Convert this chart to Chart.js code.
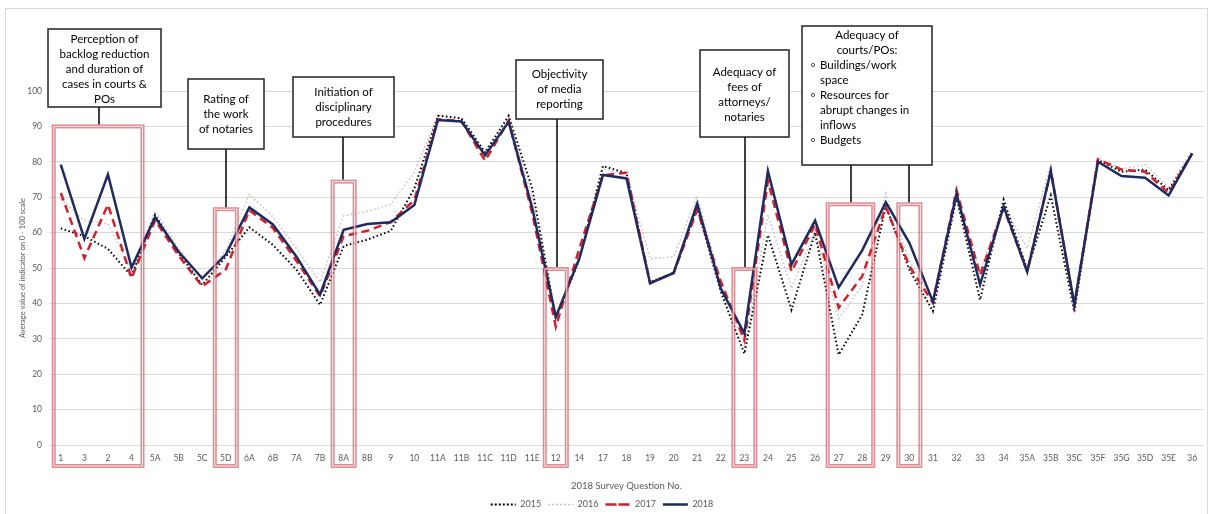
<!DOCTYPE html>
<html>
<head>
<meta charset="utf-8">
<script src="https://cdn.jsdelivr.net/npm/chart.js@4.4.0/dist/chart.umd.min.js"></script>
<style>
  html, body { margin: 0; padding: 0; background: #fff; }
  #wrap { width: 1211px; height: 514px; }
</style>
</head>
<body>
<div id="wrap"><canvas id="surveyChart" width="1211" height="514"></canvas></div>
<script>
// survey questions (x axis)
const questions = ['1','3','2','4','5A','5B','5C','5D','6A','6B','7A','7B','8A','8B','9','10',
  '11A','11B','11C','11D','11E','12','14','17','18','19','20','21','22','23','24','25','26',
  '27','28','29','30','31','32','33','34','35A','35B','35C','35F','35G','35D','35E','36'];

// average value of indicator, 0 - 100 scale
const values2015 = [61.2, 59, 55.4, 47.7, 65, 54.2, 45.2, 53.2, 61.5, 56.5, 49.5, 39.6, 56.2, 58, 60.5, 72.5,
  93, 92.3, 82.6, 93, 72.5, 35.7, 52.5, 78.8, 76.8, 46, 48.6, 67, 43.3, 25.8, 59.3, 38.2, 60,
  25.5, 36.8, 67.6, 49.5, 37.8, 70, 41, 69.3, 49.5, 70.5, 37.6, 80.5, 77.2, 77.8, 72, 82.3];
const values2016 = [69.5, 63.4, 62.5, 49, 66.2, 55.5, 46.5, 55, 70.8, 64.5, 55.5, 46, 64.7, 66, 68, 77,
  93.2, 92.3, 83, 92.5, 70, 36.5, 53.5, 78, 76.5, 52.6, 53.2, 70.3, 46, 28, 65, 44.2, 60.5,
  35.7, 45, 71.1, 52, 41, 70, 49, 68, 55.6, 79.5, 40, 81, 78, 79.2, 72.9, 83.3];
const values2017 = [71.2, 52.8, 67.9, 47.1, 63.5, 53.5, 44.8, 49.6, 66.3, 61.3, 52, 42, 59, 60.5, 63, 69.2,
  92, 91.5, 80.3, 91.6, 65.5, 33.4, 55.5, 76.2, 76.9, 45.7, 48.6, 66.4, 46.2, 29.6, 74.6, 49, 62.3,
  38.8, 47.7, 67.3, 50.5, 40.2, 72, 48, 67, 49, 77.4, 39.3, 80.7, 77.8, 77.2, 71.2, 82.4];
const values2018 = [79.2, 58.2, 76.4, 50.1, 64.3, 54.6, 47.1, 53.8, 67.1, 62.3, 53.2, 42.5, 60.8, 62.4, 62.9, 67.8,
  91.8, 91.4, 81.8, 91.3, 67, 36.2, 52.7, 76.3, 75.3, 45.7, 48.6, 68.2, 44.2, 31.5, 77.4, 51, 63.4,
  44.5, 55, 68.6, 57.1, 40.5, 71, 45.3, 67.4, 48.9, 77.4, 39.7, 80, 76, 75.5, 70.5, 82.4];

const yTicks = [0, 10, 20, 30, 40, 50, 60, 70, 80, 90, 100];

// 강조 구간 (빨간 박스) + 설명 상자
const callouts = [
  { from: '1', to: '4', top: 90, padL: 7, box: [48, 29, 161, 107], lineX: 99,
    lines: ['Perception of', 'backlog reduction', 'and duration of', 'cases in courts &', 'POs'], textY: 39 },
  { from: '5D', to: '5D', top: 66.6, box: [188, 79, 264, 149], lineX: 226,
    lines: ['Rating of', 'the work', 'of notaries'], textY: 99 },
  { from: '8A', to: '8A', top: 74.4, box: [293, 77, 394, 137], lineX: 343,
    lines: ['Initiation of', 'disciplinary', 'procedures'], textY: 92 },
  { from: '12', to: '12', top: 49.7, box: [516, 60, 603, 119], lineX: 557,
    lines: ['Objectivity', 'of media', 'reporting'], textY: 74 },
  { from: '23', to: '23', top: 49.7, box: [700, 50, 789, 137], lineX: 745,
    lines: ['Adequacy of', 'fees of', 'attorneys/', 'notaries'], textY: 72 },
  { from: '27', to: '28', top: 68, box: [802, 26, 932, 165], lineX: 851,
    lines: ['Adequacy of', 'courts/POs:'], textY: 35,
    bullets: [['Buildings/work', 'space'], ['Resources for', 'abrupt changes in', 'inflows'], ['Budgets']] },
  { from: '30', to: '30', top: 68, box: null, lineX: 909 }
];

const calloutPlugin = {
  id: 'callouts',
  afterDraw(chart) {
    const ctx = chart.ctx;
    const x = chart.scales.x;
    const y = chart.scales.y;
    ctx.save();
    // 바깥 테두리
    ctx.strokeStyle = '#d9d9d9';
    ctx.lineWidth = 1;
    ctx.strokeRect(5.5, 8.5, 1202, 510);

    const bottom = 466;
    callouts.forEach(c => {
      const left = x.getPixelForValue(questions.indexOf(c.from)) - (c.padL || 11);
      const right = x.getPixelForValue(questions.indexOf(c.to)) + 11;
      const top = y.getPixelForValue(c.top);
      ctx.strokeStyle = 'rgba(200, 70, 80, 0.62)';
      ctx.lineWidth = 4;
      ctx.strokeRect(left, top, right - left, bottom - top);
      ctx.strokeStyle = 'rgba(255, 255, 255, 0.8)';
      ctx.lineWidth = 1;
      ctx.strokeRect(left, top, right - left, bottom - top);

      // 연결선
      const boxBottom = c.box ? c.box[3] : 165;
      ctx.strokeStyle = '#000';
      ctx.lineWidth = 1.5;
      ctx.beginPath();
      ctx.moveTo(c.lineX, boxBottom);
      ctx.lineTo(c.lineX, top - 2);
      ctx.stroke();

      if (!c.box) return;
      const [bx1, by1, bx2, by2] = c.box;
      ctx.fillStyle = '#fff';
      ctx.fillRect(bx1, by1, bx2 - bx1, by2 - by1);
      ctx.strokeStyle = '#222';
      ctx.lineWidth = 1.5;
      ctx.strokeRect(bx1, by1, bx2 - bx1, by2 - by1);

      ctx.fillStyle = '#000';
      ctx.font = '11.5px Lato, "Open Sans", sans-serif';
      ctx.textBaseline = 'middle';
      ctx.textAlign = 'center';
      const cx = (bx1 + bx2) / 2;
      let ty = c.textY;
      c.lines.forEach(t => { ctx.fillText(t, cx, ty); ty += 15; });
      if (c.bullets) {
        ctx.textAlign = 'left';
        c.bullets.forEach(b => {
          ctx.beginPath();
          ctx.arc(bx1 + 11, ty, 1.6, 0, Math.PI * 2);
          ctx.lineWidth = 0.8;
          ctx.stroke();
          b.forEach(t => { ctx.fillText(t, bx1 + 18, ty); ty += 15; });
        });
      }
    });
    ctx.restore();
  }
};

const tickColor = '#595959';
const ctx = document.getElementById('surveyChart').getContext('2d');
const surveyChart = new Chart(ctx, {
  type: 'line',
  data: {
    labels: questions,
    datasets: [
      { label: '2015', data: values2015, borderColor: '#000', borderWidth: 2, borderDash: [1.5, 2.5],
        pointRadius: 0, tension: 0, fill: false, order: 2 },
      { label: '2016', data: values2016, borderColor: '#c4c4c4', borderWidth: 1.5, borderDash: [1.5, 2.5],
        pointRadius: 0, tension: 0, fill: false, order: 3 },
      { label: '2017', data: values2017, borderColor: '#d0202e', borderWidth: 2.5, borderDash: [8, 5],
        pointRadius: 0, tension: 0, fill: false, order: 1 },
      { label: '2018', data: values2018, borderColor: '#1f2a5e', borderWidth: 2.5,
        pointRadius: 0, tension: 0, fill: false, order: 0 }
    ]
  },
  options: {
    responsive: false,
    animation: false,
    devicePixelRatio: 1,
    layout: { padding: { top: 91, left: 0, right: 7, bottom: -5 } },
    plugins: {
      legend: {
        position: 'bottom',
        labels: {
          boxWidth: 25,
          boxHeight: 0,
          padding: 7,
          color: tickColor,
          font: { family: 'Lato', size: 9 },
          sort: (a, b) => a.datasetIndex - b.datasetIndex
        }
      },
      tooltip: { enabled: false }
    },
    scales: {
      x: {
        offset: true,
        grid: { display: false, drawTicks: false },
        border: { display: false },
        ticks: { color: tickColor, font: { family: 'Lato', size: 8.5 }, padding: 8, maxRotation: 0, autoSkip: false },
        title: { display: true, text: '2018 Survey Question No.', color: tickColor,
          font: { family: 'Lato', size: 9.5 }, padding: { top: 14, bottom: 1 } },
        afterFit: (scale) => { scale.height = 48; }
      },
      y: {
        min: 0,
        max: 100,
        afterBuildTicks: (scale) => { scale.ticks = yTicks.map(v => ({ value: v })); },
        grid: { color: '#d9d9d9', lineWidth: 1, drawTicks: false },
        border: { display: false },
        ticks: { color: tickColor, font: { family: 'Lato', size: 8.5 }, padding: 7 },
        title: { display: true, text: 'Average value of indicator on 0 - 100 scale', color: tickColor,
          font: { family: 'Lato', size: 7.5 }, padding: { top: 18, bottom: 0 } },
        afterFit: (scale) => { scale.width = 49; }
      }
    }
  },
  plugins: [calloutPlugin]
});
</script>
</body>
</html>
